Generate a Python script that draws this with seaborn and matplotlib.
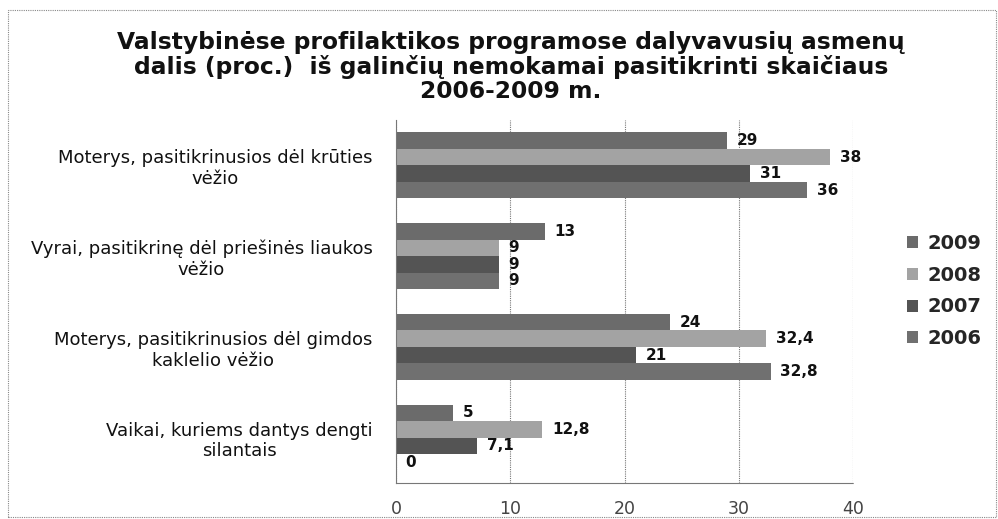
import matplotlib
matplotlib.use("Agg")
import matplotlib.pyplot as plt
import seaborn as sns
import pandas as pd
from matplotlib.patches import Rectangle

categories = [
    "Moterys, pasitikrinusios dėl krūties\nvėžio",
    "Vyrai, pasitikrinę dėl priešinės liaukos\nvėžio",
    "Moterys, pasitikrinusios dėl gimdos\nkaklelio vėžio",
    "Vaikai, kuriems dantys dengti\nsilantais",
]
years = ["2009", "2008", "2007", "2006"]
v2009 = [29, 13, 24, 5]
v2008 = [38, 9, 32.4, 12.8]
v2007 = [31, 9, 21, 7.1]
v2006 = [36, 9, 32.8, 0]
xticks = [0, 10, 20, 30, 40]
title = ("Valstybinėse profilaktikos programose dalyvavusių asmenų\n"
         "dalis (proc.)  iš galinčių nemokamai pasitikrinti skaičiaus\n"
         "2006-2009 m.")

colors = {"2009": "#6b6b6b", "2008": "#a3a3a3", "2007": "#545454", "2006": "#707070"}

series = {"2009": v2009, "2008": v2008, "2007": v2007, "2006": v2006}
rows = []
for y in years:
    for c, v in zip(categories, series[y]):
        rows.append({"cat": c, "year": y, "val": v})
df = pd.DataFrame(rows)

sns.set_style("white")
plt.rcParams["font.family"] = ["DejaVu Sans"]

fig = plt.figure(figsize=(9.98, 5.19), dpi=100)
ax = fig.add_axes([396 / 998, 1 - 483 / 519, (853 - 396) / 998, (483 - 120) / 519])

sns.barplot(data=df, y="cat", x="val", hue="year", order=categories,
            hue_order=years, palette=colors, orient="h", width=0.73,
            gap=0, saturation=1, ax=ax, legend=True, errorbar=None,
            linewidth=0)

def fmt(v):
    s = f"{v:g}"
    return s.replace(".", ",")

for cont, y in zip(ax.containers, years):
    ax.bar_label(cont, labels=[fmt(v) for v in series[y]], padding=7,
                 fontsize=11, fontweight="bold", color="#111")

ax.set_xlim(0, 40)
ax.set_xticks(xticks)
ax.set_xlabel("")
ax.set_ylabel("")
ax.set_yticks(range(len(categories)))
ax.set_yticklabels(categories, multialignment="center")
ax.grid(axis="x", color="#777", linestyle=(0, (1, 1)), linewidth=0.8)
ax.set_axisbelow(True)
for s in ["top", "right"]:
    ax.spines[s].set_visible(False)
for s in ["left", "bottom"]:
    ax.spines[s].set_color("#777")
    ax.spines[s].set_linestyle((0, (1, 1)))
    ax.spines[s].set_linewidth(0.8)
ax.tick_params(axis="x", length=0, pad=12, labelsize=12.5, labelcolor="#444")
ax.tick_params(axis="y", length=0, pad=17, labelsize=13, labelcolor="#111")

leg = ax.legend(loc="center left", bbox_to_anchor=(889 / 998, 1 - 291 / 519),
                bbox_transform=fig.transFigure, frameon=False,
                handlelength=0.57, handleheight=0.57, handletextpad=0.5,
                labelspacing=0.66, prop={"weight": "bold", "size": 14})

fig.text(0.512, 1 - 67 / 519, title, ha="center", va="center", fontsize=16.8,
         fontweight="bold", linespacing=1.08, color="#111")

fig.patches.append(Rectangle((8 / 998, 1 - 517 / 519), 988 / 998, 507 / 519,
                             transform=fig.transFigure, fill=False,
                             edgecolor="#888", linestyle=(0, (1, 1)), linewidth=0.8))

fig.savefig("out.png", dpi=100)
